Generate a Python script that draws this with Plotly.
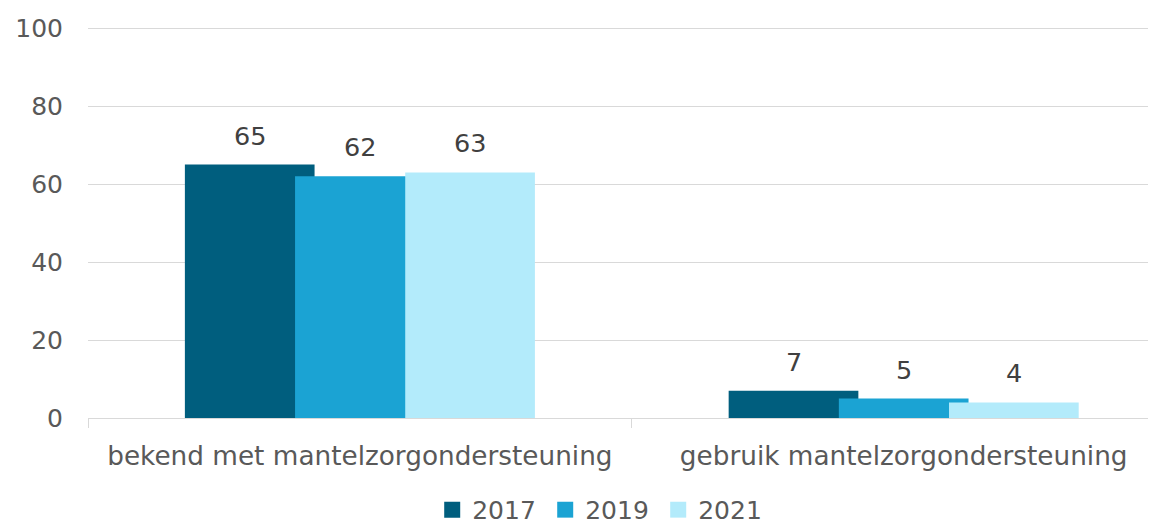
import plotly.graph_objects as go

categories = ["bekend met mantelzorgondersteuning", "gebruik mantelzorgondersteuning"]
years = ["2017", "2019", "2021"]
values_2017 = [65, 7]
values_2019 = [62, 5]
values_2021 = [63, 4]
series = [values_2017, values_2019, values_2021]
colors = ["#005E7E", "#1BA3D3", "#B3EBFB"]

FONT = "DejaVu Sans"
bar_w = 0.2385
step = 0.2026
start = -(2 * step + bar_w) / 2

fig = go.Figure()
annotations = []
for k, (yr, vals, col) in enumerate(zip(years, series, colors)):
    off = start + k * step
    fig.add_trace(go.Bar(
        x=categories, y=vals, name=yr,
        marker=dict(color=col, line=dict(width=0)),
        width=bar_w, offset=off, showlegend=False,
    ))
    # legend entry with a larger square swatch
    fig.add_trace(go.Scatter(
        x=[None], y=[None], mode="markers", name=yr,
        marker=dict(symbol="square", size=17, color=col),
        showlegend=True,
    ))
    for i, v in enumerate(vals):
        annotations.append(dict(
            x=i + off + bar_w / 2, y=v, xref="x", yref="y",
            text=str(v), showarrow=False, yanchor="bottom", yshift=12,
            font=dict(family=FONT, size=25.5, color="#404040"),
        ))

fig.update_layout(
    width=1148, height=516,
    margin=dict(l=80, r=0, t=19, b=106, autoexpand=False),
    barmode="overlay",
    plot_bgcolor="white", paper_bgcolor="white",
    font=dict(family=FONT, size=25, color="#595959"),
    showlegend=True,
    legend=dict(orientation="h", x=0.481, xanchor="center", y=-0.235, yanchor="middle",
                font=dict(family=FONT, size=25, color="#595959"),
                traceorder="normal", itemwidth=30, entrywidth=68, entrywidthmode="pixels"),
    annotations=annotations,
)
fig.update_xaxes(
    range=[-0.5, 1.464], tickson="boundaries", ticks="outside", ticklen=9,
    tickcolor="#D9D9D9", showline=True, linecolor="#D9D9D9", linewidth=1,
    showgrid=False, tickfont=dict(family=FONT, size=26.3, color="#595959"),
    ticklabelstandoff=14, automargin=False,
)
fig.update_yaxes(
    range=[0, 100.3], tick0=0, dtick=20, showgrid=True, gridcolor="#D9D9D9", gridwidth=1,
    zeroline=False, showline=False, ticks="",
    tickfont=dict(family=FONT, size=25, color="#595959"),
    ticklabelstandoff=24, automargin=False,
)

fig.write_html("out.html")
